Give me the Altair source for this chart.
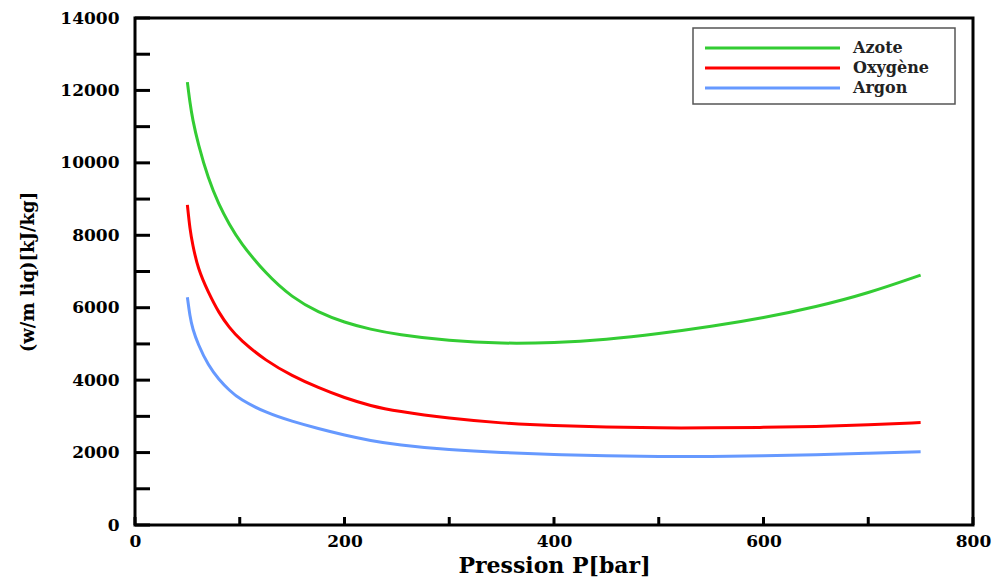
import altair as alt
import pandas as pd

# ---------------- data ----------------
pressure = [50, 52.5, 55, 60, 70, 80, 90, 100, 125, 150, 175, 200, 225, 250,
            300, 350, 400, 450, 500, 550, 600, 650, 700, 750]
azote = [12230, 11650, 11200, 10550, 9550, 8850, 8300, 7820, 6930, 6280, 5870, 5590,
         5400, 5260, 5080, 5010, 5030, 5120, 5280, 5480, 5720, 6020, 6400, 6900]
oxygene = [8840, 8150, 7750, 7080, 6420, 5860, 5450, 5120, 4530, 4120, 3790, 3510,
           3290, 3140, 2940, 2810, 2740, 2700, 2680, 2680, 2695, 2720, 2765, 2830]
argon = [6290, 5750, 5420, 5000, 4400, 4020, 3720, 3470, 3100, 2860, 2660, 2480,
         2330, 2215, 2070, 1995, 1950, 1905, 1885, 1890, 1910, 1940, 1980, 2025]

names = ["Azote", "Oxygène", "Argon"]
colors = ["#33cc33", "#ff0000", "#6699ff"]

x_labels = [0, 200, 400, 600, 800]
y_labels = [0, 2000, 4000, 6000, 8000, 10000, 12000, 14000]
x_ticks = [0, 100, 200, 300, 400, 500, 600, 700, 800]
y_ticks = [0, 1000, 2000, 3000, 4000, 5000, 6000, 7000, 8000, 9000, 10000,
           11000, 12000, 13000, 14000]

x_title = "Pression P[bar]"
y_title = "(w/m liq)[kJ/kg]"

# ---------------- build ----------------
rows = []
for name, vals in zip(names, [azote, oxygene, argon]):
    for p, v in zip(pressure, vals):
        rows.append({"P": p, "W": v, "Gaz": name})
df = pd.DataFrame(rows)

W, H = 838, 507
FONT = "DejaVu Serif"

xscale = alt.Scale(domain=[0, 800], nice=False, zero=False)
yscale = alt.Scale(domain=[0, 14000], nice=False, zero=False)

xaxis = alt.Axis(values=x_labels, title=x_title, ticks=False, domain=False,
                 grid=False, format="d", labelFont=FONT, labelFontWeight="bold",
                 labelFontSize=17, labelColor="black", labelPadding=8,
                 titleFont=FONT, titleFontWeight="bold", titleFontSize=22,
                 titleColor="black", titlePadding=6, labelFlush=False)
yaxis = alt.Axis(values=y_labels, title=y_title, ticks=False, domain=False,
                 grid=False, format="d", labelFont=FONT, labelFontWeight="bold",
                 labelFontSize=17, labelColor="black", labelPadding=16,
                 titleFont=FONT, titleFontWeight="bold", titleFontSize=18,
                 titleColor="black", titlePadding=22, labelFlush=False)

lines = alt.Chart(df).mark_line(strokeWidth=3, interpolate="basis").encode(
    x=alt.X("P:Q", scale=xscale, axis=xaxis),
    y=alt.Y("W:Q", scale=yscale, axis=yaxis),
    color=alt.Color("Gaz:N", scale=alt.Scale(domain=names, range=colors), legend=None),
    detail="Gaz:N",
)

ytick_layer = alt.Chart(pd.DataFrame({"W": y_ticks})).mark_rule(
    color="black", strokeWidth=3).encode(
    y=alt.Y("W:Q", scale=yscale, axis=yaxis),
    x=alt.value(0), x2=alt.value(15))

xtick_layer = alt.Chart(pd.DataFrame({"P": x_ticks})).mark_rule(
    color="black", strokeWidth=3).encode(
    x=alt.X("P:Q", scale=xscale, axis=xaxis),
    y=alt.value(H), y2=alt.value(H - 8))

legend_box = alt.Chart(pd.DataFrame({"a": [0]})).mark_rect(
    fill="white", stroke="#555555", strokeWidth=1.5).encode(
    x=alt.value(558), x2=alt.value(820), y=alt.value(10), y2=alt.value(86))

legend_layers = []
for i, (name, col) in enumerate(zip(names, colors)):
    yy = 30 + 20 * i
    d = pd.DataFrame({"Gaz": [name]})
    legend_layers.append(
        alt.Chart(d).mark_rule(color=col, strokeWidth=3).encode(
            x=alt.value(570), x2=alt.value(705), y=alt.value(yy)))
    legend_layers.append(
        alt.Chart(d).mark_text(align="left", baseline="middle", font=FONT,
                               fontWeight="bold", fontSize=16, color="#222222").encode(
            x=alt.value(718), y=alt.value(yy), text="Gaz:N"))

chart = alt.layer(lines, ytick_layer, xtick_layer, legend_box, *legend_layers).properties(
    width=W, height=H,
    padding={"left": 135, "top": 18, "right": 23, "bottom": 52},
    autosize=alt.AutoSizeParams(type="none"),
    background="white",
).configure_view(stroke="black", strokeWidth=3)

chart.save("out.html", embed_options={"renderer": "svg", "actions": False})
